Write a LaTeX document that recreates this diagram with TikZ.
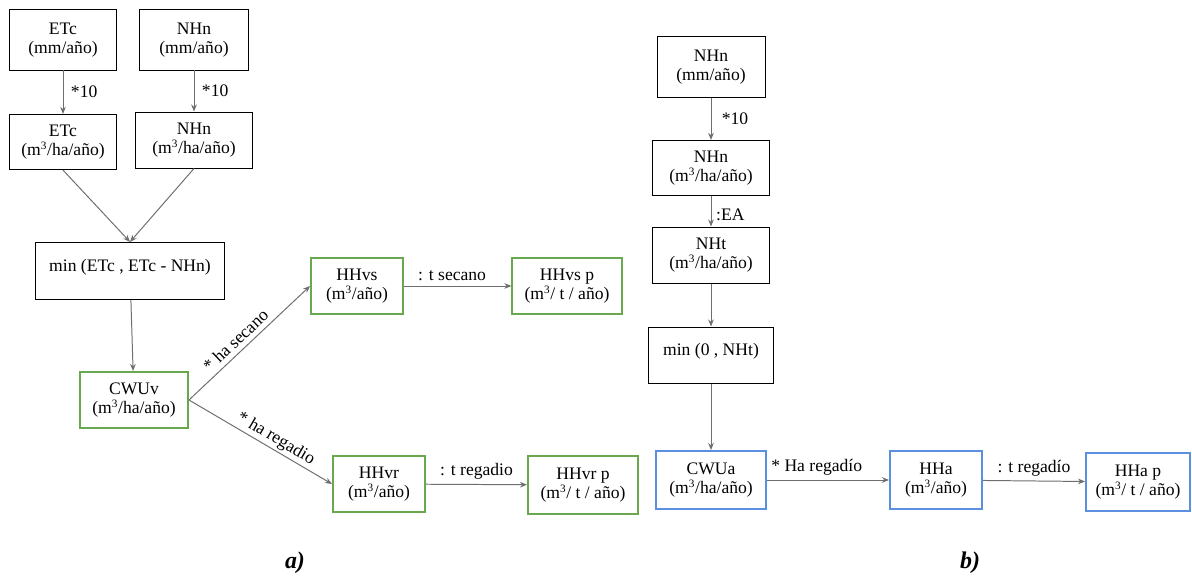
\documentclass[tikz,border=0pt]{standalone}
\usepackage{fontspec}
\setmainfont{Liberation Serif}
\usepackage{xcolor}
\usepackage{tikz}
\usetikzlibrary{positioning}
\usetikzlibrary{arrows.meta}
\definecolor{boxgreen}{HTML}{6AA84F}
\definecolor{boxblue}{HTML}{5B8FE0}
\definecolor{linegray}{HTML}{6E6E6E}
\def\cub{m\textsuperscript{\fontsize{8}{8}\selectfont 3}}
\tikzstyle{plain} = [draw=black, line width=0.7pt, align=center, inner sep=2pt]
\tikzstyle{gbox} = [draw=boxgreen, line width=1.4pt, align=center, inner sep=2pt]
\tikzstyle{bbox} = [draw=boxblue, line width=1.4pt, align=center, inner sep=2pt]
\tikzstyle{link} = [draw=linegray, line width=0.7pt, -{Stealth[length=5pt,width=4pt]}]

\begin{document}
\begin{tikzpicture}[x=0.025cm, y=-0.025cm, font=\fontsize{12.5}{13.5}\selectfont]
      \useasboundingbox (0,0) rectangle (1192,578);
      % a)
      \node[plain, minimum width=2.68cm, minimum height=1.5cm] (etcA) at (63,40) {ETc\\(mm/año)};
      \node[plain, minimum width=2.7cm, minimum height=1.5cm] (nhnA) at (194,40) {NHn\\(mm/año)};
      \node[plain, minimum width=2.68cm, minimum height=1.38cm] (etcB) at (63,142) {ETc\\(\cub/ha/año)};
      \node[plain, minimum width=2.93cm, minimum height=1.4cm] (nhnB) at (194,140) {NHn\\(\cub/ha/año)};
      \node[plain, minimum width=4.73cm, minimum height=1.43cm, text depth=0.3cm] (minA) at (130,271) {min (ETc , ETc - NHn)};
      \node[gbox, minimum width=2.7cm, minimum height=1.4cm] (cwuv) at (134,400) {CWUv\\(\cub/ha/año)};
      \node[gbox, minimum width=2.3cm, minimum height=1.4cm] (hhvs) at (357,286) {HHvs\\(\cub/año)};
      \node[gbox, minimum width=2.73cm, minimum height=1.4cm] (hhvsp) at (567,286) {HHvs p\\(\cub/ t / año)};
      \node[gbox, minimum width=2.3cm, minimum height=1.4cm] (hhvr) at (379,484) {HHvr\\(\cub/año)};
      \node[gbox, minimum width=2.75cm, minimum height=1.43cm] (hhvrp) at (583,485) {HHvr p\\(\cub/ t / año)};
      \draw[link] (etcA) -- node[right, xshift=2pt] {*10} (etcB);
      \draw[link] (nhnA) -- node[right, xshift=2pt] {*10} (nhnB);
      \draw[link] (etcB.south) -- (minA.north);
      \draw[link] (nhnB.south) -- (minA.north);
      \draw[link] (minA) -- (cwuv);
      \draw[link] (cwuv.east) -- node[sloped, above, pos=0.45] {* ha secano} (hhvs.west);
      \draw[link] (cwuv.east) -- node[sloped, above, pos=0.57, yshift=-2pt] {* ha regadio} (hhvr.west);
      \draw[link] (hhvs) -- node[above, xshift=-4pt] {: t secano} (hhvsp);
      \draw[link] (hhvr) -- node[above] {: t regadio} (hhvrp);
      % b)
      \node[plain, minimum width=2.7cm, minimum height=1.53cm] (nhnC) at (711,67) {NHn\\(mm/año)};
      \node[plain, minimum width=2.9cm, minimum height=1.38cm] (nhnD) at (711,168) {NHn\\(\cub/ha/año)};
      \node[plain, minimum width=2.9cm, minimum height=1.4cm] (nht) at (711,255) {NHt\\(\cub/ha/año)};
      \node[plain, minimum width=3.1cm, minimum height=1.4cm, text depth=0.3cm] (minB) at (711,355) {min (0 , NHt)};
      \node[bbox, minimum width=2.75cm, minimum height=1.45cm] (cwua) at (711,480) {CWUa\\(\cub/ha/año)};
      \node[bbox, minimum width=2.3cm, minimum height=1.43cm] (hha) at (936,480) {HHa\\(\cub/año)};
      \node[bbox, minimum width=2.6cm, minimum height=1.43cm] (hhap) at (1138,482) {HHa p\\(\cub/ t / año)};
      \draw[link] (nhnC) -- node[right, xshift=4pt] {*10} (nhnD);
      \draw[link] (nhnD) -- node[right, pos=0.6] {:EA} (nht);
      \draw[link] (nht) -- (minB);
      \draw[link] (minB) -- (cwua);
      \draw[link] (cwua) -- node[above, xshift=-8pt] {* Ha regadío} (hha);
      \draw[link] (hha) -- node[above] {: t regadío} (hhap);
      % captions
      \node[font=\fontsize{17}{20}\selectfont\bfseries\itshape] (capA) at (295,563) {a)};
      \node[font=\fontsize{17}{20}\selectfont\bfseries\itshape] (capB) at (970,563) {b)};
      \end{tikzpicture}
\end{document}
